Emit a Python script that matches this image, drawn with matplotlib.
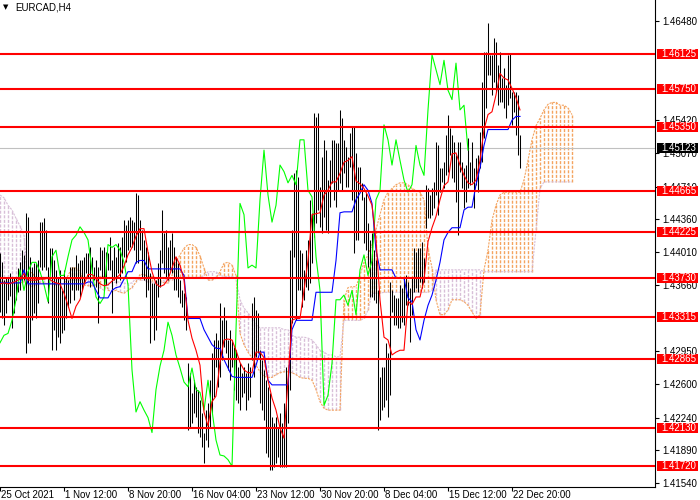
import numpy as np
import matplotlib
matplotlib.use("Agg")
import matplotlib.pyplot as plt
from matplotlib.patches import Rectangle
from matplotlib.transforms import blended_transform_factory

plt.rcParams["font.family"] = ["Liberation Sans", "DejaVu Sans"]

symbol = "EURCAD,H4"
time_labels = ["25 Oct 2021", "1 Nov 12:00", "8 Nov 20:00", "16 Nov 04:00", "23 Nov 12:00",
               "30 Nov 20:00", "8 Dec 04:00", "15 Dec 12:00", "22 Dec 20:00"]
time_label_bars = [0, 32, 64, 96, 128, 160, 192, 224, 256]
price_ticks = [1.46480, 1.45420, 1.45070, 1.44710, 1.44360, 1.44010, 1.43660,
               1.42950, 1.42600, 1.42240, 1.41890, 1.41540]
levels = [1.46125, 1.45750, 1.45350, 1.44665, 1.44225, 1.43730, 1.43315, 1.42865, 1.42130, 1.41720]
last_price = 1.45123

# H4 bars, one per bar index
bar_high = [
    1.4400, 1.4390, 1.4371, 1.4374, 1.4374, 1.4379, 1.4374, 1.4374, 1.4374, 1.4384,
    1.4390, 1.4403, 1.4398, 1.4443, 1.4438, 1.4396, 1.4385, 1.4389, 1.4389, 1.4392,
    1.4433, 1.4433, 1.4437, 1.4425, 1.4385, 1.4405, 1.4405, 1.4392, 1.4382, 1.4374,
    1.4382, 1.4360, 1.4382, 1.4374, 1.4371, 1.4385, 1.4385, 1.4385, 1.4398, 1.4389,
    1.4392, 1.4392, 1.4396, 1.4400, 1.4400, 1.4406, 1.4396, 1.4385, 1.4392, 1.4385,
    1.4406, 1.4403, 1.4406, 1.4401, 1.4400, 1.4417, 1.4392, 1.4406, 1.4396, 1.4411,
    1.4406, 1.4417, 1.4435, 1.4430, 1.4435, 1.4438, 1.4435, 1.4433, 1.4464, 1.4462,
    1.4435, 1.4425, 1.4414, 1.4406, 1.4401, 1.4379, 1.4368, 1.4368, 1.4371, 1.4389,
    1.4403, 1.4446, 1.4421, 1.4425, 1.4406, 1.4414, 1.4421, 1.4406, 1.4396, 1.4389,
    1.4371, 1.4360, 1.4357, 1.4353, 1.4282, 1.4272, 1.4250, 1.4264, 1.4257, 1.4254,
    1.4243, 1.4229, 1.4208, 1.4232, 1.4240, 1.4264, 1.4293, 1.4307, 1.4314, 1.4307,
    1.4346, 1.4328, 1.4342, 1.4328, 1.4307, 1.4318, 1.4307, 1.4299, 1.4296, 1.4278,
    1.4282, 1.4272, 1.4278, 1.4272, 1.4282, 1.4278, 1.4346, 1.4353, 1.4339, 1.4336,
    1.4296, 1.4286, 1.4275, 1.4264, 1.4257, 1.4250, 1.4225, 1.4218, 1.4225, 1.4214,
    1.4229, 1.4218, 1.4240, 1.4278, 1.4275, 1.4403, 1.4425, 1.4485, 1.4489, 1.4481,
    1.4403, 1.4400, 1.4382, 1.4403, 1.4414, 1.4457, 1.4443, 1.4550, 1.4545, 1.4550,
    1.4471, 1.4503, 1.4521, 1.4510, 1.4478, 1.4499, 1.4521, 1.4521, 1.4518, 1.4518,
    1.4553, 1.4544, 1.4521, 1.4513, 1.4503, 1.4528, 1.4535, 1.4535, 1.4507, 1.4492,
    1.4492, 1.4475, 1.4460, 1.4464, 1.4432, 1.4414, 1.4421, 1.4403, 1.4392, 1.4360,
    1.4267, 1.4278, 1.4278, 1.4304, 1.4293, 1.4369, 1.4360, 1.4355, 1.4352, 1.4352,
    1.4366, 1.4363, 1.4373, 1.4376, 1.4369, 1.4363, 1.4373, 1.4405, 1.4401, 1.4405,
    1.4405, 1.4412, 1.4395, 1.4473, 1.4469, 1.4462, 1.4469, 1.4476, 1.4519, 1.4515,
    1.4491, 1.4491, 1.4497, 1.4526, 1.4548, 1.4534, 1.4526, 1.4519, 1.4505, 1.4519,
    1.4519, 1.4497, 1.4491, 1.4494, 1.4523, 1.4497, 1.4519, 1.4491, 1.4502, 1.4505,
    1.4529, 1.4583, 1.4615, 1.4615, 1.4646, 1.4612, 1.4612, 1.4630, 1.4626, 1.4601,
    1.4615, 1.4587, 1.4598, 1.4580, 1.4612, 1.4614, 1.4572, 1.4572, 1.4572, 1.4569,
    1.4526,
]
bar_low = [
    1.4337, 1.4330, 1.4323, 1.4336, 1.4350, 1.4354, 1.4320, 1.4336, 1.4350, 1.4358,
    1.4360, 1.4369, 1.4371, 1.4293, 1.4304, 1.4304, 1.4328, 1.4336, 1.4331, 1.4346,
    1.4385, 1.4382, 1.4385, 1.4382, 1.4346, 1.4379, 1.4296, 1.4318, 1.4296, 1.4310,
    1.4304, 1.4314, 1.4318, 1.4331, 1.4342, 1.4346, 1.4360, 1.4350, 1.4360, 1.4360,
    1.4353, 1.4360, 1.4368, 1.4379, 1.4373, 1.4364, 1.4379, 1.4371, 1.4364, 1.4325,
    1.4382, 1.4374, 1.4360, 1.4366, 1.4382, 1.4382, 1.4336, 1.4371, 1.4368, 1.4379,
    1.4371, 1.4379, 1.4396, 1.4390, 1.4403, 1.4406, 1.4406, 1.4403, 1.4389, 1.4389,
    1.4403, 1.4374, 1.4371, 1.4353, 1.4360, 1.4304, 1.4331, 1.4307, 1.4318, 1.4353,
    1.4364, 1.4389, 1.4379, 1.4374, 1.4371, 1.4382, 1.4379, 1.4360, 1.4360, 1.4353,
    1.4346, 1.4342, 1.4328, 1.4318, 1.4211, 1.4214, 1.4218, 1.4229, 1.4225, 1.4208,
    1.4203, 1.4193, 1.4175, 1.4200, 1.4193, 1.4214, 1.4229, 1.4246, 1.4278, 1.4257,
    1.4267, 1.4286, 1.4299, 1.4293, 1.4275, 1.4264, 1.4278, 1.4254, 1.4243, 1.4240,
    1.4232, 1.4246, 1.4250, 1.4232, 1.4243, 1.4246, 1.4286, 1.4267, 1.4289, 1.4293,
    1.4240, 1.4232, 1.4221, 1.4186, 1.4182, 1.4168, 1.4168, 1.4171, 1.4175, 1.4182,
    1.4171, 1.4171, 1.4171, 1.4171, 1.4218, 1.4254, 1.4325, 1.4396, 1.4328, 1.4360,
    1.4360, 1.4342, 1.4350, 1.4364, 1.4360, 1.4368, 1.4389, 1.4417, 1.4432, 1.4446,
    1.4428, 1.4421, 1.4438, 1.4425, 1.4421, 1.4449, 1.4475, 1.4457, 1.4449, 1.4467,
    1.4475, 1.4467, 1.4485, 1.4471, 1.4471, 1.4492, 1.4457, 1.4400, 1.4414, 1.4414,
    1.4467, 1.4457, 1.4411, 1.4403, 1.4385, 1.4353, 1.4353, 1.4350, 1.4346, 1.4211,
    1.4221, 1.4232, 1.4235, 1.4243, 1.4225, 1.4248, 1.4337, 1.4323, 1.4323, 1.4320,
    1.4320, 1.4326, 1.4323, 1.4344, 1.4344, 1.4305, 1.4334, 1.4358, 1.4363, 1.4358,
    1.4369, 1.4363, 1.4369, 1.4427, 1.4437, 1.4437, 1.4441, 1.4448, 1.4462, 1.4441,
    1.4465, 1.4476, 1.4469, 1.4483, 1.4487, 1.4505, 1.4480, 1.4476, 1.4454, 1.4419,
    1.4487, 1.4469, 1.4448, 1.4454, 1.4469, 1.4473, 1.4476, 1.4448, 1.4473, 1.4465,
    1.4491, 1.4497, 1.4523, 1.4555, 1.4590, 1.4590, 1.4569, 1.4583, 1.4572, 1.4558,
    1.4561, 1.4561, 1.4555, 1.4544, 1.4558, 1.4566, 1.4537, 1.4551, 1.4526, 1.4505,
    1.4491,
]

# Ichimoku lines, one value every 2 bars
tenkan = [
    1.4367, 1.4368, 1.4367, 1.4368, 1.4370, 1.4372, 1.4378, 1.4371, 1.4371, 1.4371,
    1.4372, 1.4372, 1.4373, 1.4370, 1.4368, 1.4367, 1.4357, 1.4344, 1.4330, 1.4343,
    1.4350, 1.4366, 1.4377, 1.4377, 1.4373, 1.4367, 1.4365, 1.4366, 1.4370, 1.4373,
    1.4377, 1.4386, 1.4398, 1.4406, 1.4418, 1.4426, 1.4426, 1.4401, 1.4380, 1.4367,
    1.4364, 1.4366, 1.4372, 1.4384, 1.4396, 1.4387, 1.4371, 1.4328, 1.4309, 1.4296,
    1.4280, 1.4230, 1.4215, 1.4241, 1.4247, 1.4283, 1.4307, 1.4308, 1.4307, 1.4296,
    1.4283, 1.4275, 1.4272, 1.4272, 1.4294, 1.4294, 1.4288, 1.4264, 1.4245, 1.4232,
    1.4213, 1.4202, 1.4264, 1.4328, 1.4330, 1.4330, 1.4360, 1.4392, 1.4441, 1.4442,
    1.4443, 1.4462, 1.4467, 1.4476, 1.4476, 1.4485, 1.4497, 1.4499, 1.4503, 1.4477,
    1.4474, 1.4469, 1.4461, 1.4451, 1.4414, 1.4350, 1.4310, 1.4307, 1.4291, 1.4294,
    1.4296, 1.4296, 1.4348, 1.4345, 1.4353, 1.4353, 1.4371, 1.4412, 1.4427, 1.4439,
    1.4457, 1.4472, 1.4476, 1.4506, 1.4507, 1.4494, 1.4483, 1.4475, 1.4473, 1.4478,
    1.4499, 1.4532, 1.4548, 1.4551, 1.4569, 1.4592, 1.4587, 1.4585, 1.4576, 1.4566,
    1.4553,
]
kijun = [
    1.4368, 1.4368, 1.4368, 1.4368, 1.4368, 1.4368, 1.4382, 1.4367, 1.4367, 1.4367,
    1.4367, 1.4367, 1.4367, 1.4367, 1.4367, 1.4367, 1.4367, 1.4367, 1.4367, 1.4367,
    1.4367, 1.4367, 1.4369, 1.4369, 1.4360, 1.4352, 1.4352, 1.4352, 1.4360, 1.4363,
    1.4364, 1.4372, 1.4380, 1.4380, 1.4390, 1.4392, 1.4392, 1.4383, 1.4383, 1.4383,
    1.4383, 1.4383, 1.4383, 1.4383, 1.4383, 1.4383, 1.4376, 1.4330, 1.4330, 1.4330,
    1.4330, 1.4318, 1.4310, 1.4302, 1.4298, 1.4298, 1.4286, 1.4277, 1.4268, 1.4267,
    1.4267, 1.4267, 1.4267, 1.4267, 1.4280, 1.4294, 1.4294, 1.4264, 1.4259, 1.4259,
    1.4259, 1.4259, 1.4259, 1.4318, 1.4328, 1.4328, 1.4328, 1.4328, 1.4328, 1.4358,
    1.4358, 1.4358, 1.4358, 1.4358, 1.4392, 1.4443, 1.4444, 1.4444, 1.4444, 1.4457,
    1.4464, 1.4473, 1.4467, 1.4453, 1.4403, 1.4382, 1.4382, 1.4382, 1.4382, 1.4373,
    1.4373, 1.4373, 1.4352, 1.4348, 1.4318, 1.4307, 1.4328, 1.4344, 1.4355, 1.4371,
    1.4390, 1.4414, 1.4422, 1.4427, 1.4427, 1.4427, 1.4446, 1.4449, 1.4449, 1.4473,
    1.4491, 1.4515, 1.4532, 1.4532, 1.4532, 1.4532, 1.4532, 1.4532, 1.4542, 1.4546,
    1.4546,
]
chikou = [
    1.4304, 1.4312, 1.4314, 1.4328, 1.4350, 1.4382, 1.4360, 1.4380, 1.4390, 1.4390,
    1.4380, 1.4366, 1.4348, 1.4396, 1.4403, 1.4376, 1.4376, 1.4396, 1.4414, 1.4419,
    1.4428, 1.4422, 1.4414, 1.4382, 1.4353, 1.4346, 1.4353, 1.4409, 1.4406, 1.4409,
    1.4403, 1.4390, 1.4366, 1.4275, 1.4230, 1.4241, 1.4232, 1.4224, 1.4208, 1.4254,
    1.4279, 1.4296, 1.4326, 1.4312, 1.4291, 1.4277, 1.4262, 1.4257, 1.4277, 1.4254,
    1.4251, 1.4232, 1.4264, 1.4232, 1.4200, 1.4184, 1.4183, 1.4179, 1.4172, 1.4318,
    1.4453, 1.4441, 1.4384, 1.4387, 1.4384, 1.4457, 1.4510, 1.4462, 1.4433, 1.4451,
    1.4494, 1.4487, 1.4475, 1.4483, 1.4473, 1.4521, 1.4521, 1.4467, 1.4460, 1.4396,
    1.4360, 1.4237, 1.4248, 1.4282, 1.4350, 1.4350, 1.4355, 1.4344, 1.4360, 1.4334,
    1.4382, 1.4398, 1.4376, 1.4392, 1.4457, 1.4467, 1.4537, 1.4521, 1.4494, 1.4521,
    1.4499, 1.4478, 1.4465, 1.4473, 1.4515, 1.4494, 1.4483, 1.4553, 1.4612, 1.4596,
    1.4580, 1.4606, 1.4574, 1.4564, 1.4603, 1.4553, 1.4558, 1.4510,
]
span_a = [
    1.4369, 1.4369, 1.4369, 1.4368, 1.4368, 1.4368, 1.4369, 1.4379, 1.4379, 1.4373,
    1.4368, 1.4368, 1.4367, 1.4367, 1.4366, 1.4366, 1.4367, 1.4376, 1.4384, 1.4384,
    1.4380, 1.4366, 1.4365, 1.4365, 1.4366, 1.4375, 1.4375, 1.4360, 1.4359, 1.4360,
    1.4358, 1.4357, 1.4360, 1.4363, 1.4369, 1.4377, 1.4377, 1.4375, 1.4375, 1.4373,
    1.4371, 1.4368, 1.4368, 1.4376, 1.4390, 1.4398, 1.4405, 1.4409, 1.4409, 1.4406,
    1.4397, 1.4384, 1.4371, 1.4371, 1.4373, 1.4380, 1.4389, 1.4390, 1.4387, 1.4376,
    1.4314, 1.4302, 1.4294, 1.4288, 1.4280, 1.4273, 1.4268, 1.4267, 1.4267, 1.4270,
    1.4272, 1.4273, 1.4273, 1.4272, 1.4270, 1.4267, 1.4266, 1.4266, 1.4264, 1.4254,
    1.4241, 1.4234, 1.4232, 1.4232, 1.4232, 1.4232, 1.4350, 1.4363, 1.4364, 1.4364,
    1.4376, 1.4390, 1.4398, 1.4409, 1.4425, 1.4441, 1.4457, 1.4465, 1.4469, 1.4473,
    1.4475, 1.4475, 1.4473, 1.4469, 1.4467, 1.4465, 1.4457, 1.4405, 1.4384, 1.4350,
    1.4334, 1.4334, 1.4339, 1.4350, 1.4350, 1.4350, 1.4348, 1.4344, 1.4337, 1.4330,
    1.4334, 1.4382, 1.4403, 1.4435, 1.4451, 1.4462, 1.4465, 1.4465, 1.4465, 1.4465,
    1.4465, 1.4478, 1.4499, 1.4521, 1.4536, 1.4544, 1.4553, 1.4559, 1.4561, 1.4561,
    1.4558, 1.4558, 1.4555, 1.4548,
]
span_b = [
    1.4462, 1.4459, 1.4451, 1.4446, 1.4437, 1.4429, 1.4419, 1.4366, 1.4364, 1.4366,
    1.4374, 1.4374, 1.4374, 1.4373, 1.4373, 1.4372, 1.4372, 1.4371, 1.4371, 1.4371,
    1.4371, 1.4373, 1.4373, 1.4373, 1.4372, 1.4363, 1.4360, 1.4368, 1.4368, 1.4369,
    1.4369, 1.4368, 1.4367, 1.4368, 1.4373, 1.4371, 1.4371, 1.4369, 1.4369, 1.4368,
    1.4367, 1.4371, 1.4372, 1.4371, 1.4373, 1.4374, 1.4374, 1.4374, 1.4374, 1.4374,
    1.4374, 1.4376, 1.4380, 1.4380, 1.4380, 1.4376, 1.4375, 1.4375, 1.4375, 1.4373,
    1.4350, 1.4341, 1.4336, 1.4330, 1.4323, 1.4320, 1.4320, 1.4320, 1.4320, 1.4320,
    1.4320, 1.4318, 1.4318, 1.4312, 1.4310, 1.4310, 1.4310, 1.4309, 1.4307, 1.4302,
    1.4296, 1.4294, 1.4291, 1.4291, 1.4289, 1.4289, 1.4328, 1.4328, 1.4328, 1.4328,
    1.4328, 1.4330, 1.4339, 1.4357, 1.4357, 1.4357, 1.4358, 1.4358, 1.4358, 1.4358,
    1.4358, 1.4358, 1.4358, 1.4358, 1.4358, 1.4358, 1.4358, 1.4358, 1.4360, 1.4382,
    1.4382, 1.4382, 1.4382, 1.4382, 1.4382, 1.4382, 1.4382, 1.4382, 1.4382, 1.4382,
    1.4382, 1.4380, 1.4380, 1.4380, 1.4380, 1.4380, 1.4380, 1.4380, 1.4380, 1.4380,
    1.4380, 1.4380, 1.4380, 1.4380, 1.4425, 1.4469, 1.4476, 1.4476, 1.4476, 1.4476,
    1.4476, 1.4476, 1.4476, 1.4476,
]

Y_TOP, Y_BOT = 1.46705, 1.41498
PX_W = 655  # plot width in pixels

fig = plt.figure(figsize=(7, 5), dpi=100)
ax = fig.add_axes([0, 13 / 500, PX_W / 700, 487 / 500])
ax.set_xlim(0, 327.5)
ax.set_ylim(Y_BOT, Y_TOP)

# cloud hatch
a = np.array(span_a)
b = np.array(span_b)
xs = np.arange(len(a)) * 2
up = a >= b
hatch = (0, (2.2, 1.1))
ax.vlines(xs[up], b[up], a[up], colors="#F4A460", linewidth=1.0, linestyles=[hatch], zorder=1)
ax.vlines(xs[~up], a[~up], b[~up], colors="#D8BFD8", linewidth=1.0, linestyles=[hatch], zorder=1)
ax.plot(xs, a, color="#F4A460", lw=0.8, ls=(0, (2, 1)), zorder=1)
ax.plot(xs, b, color="#D8BFD8", lw=0.8, ls=(0, (2, 1)), zorder=1)

ax.axhline(last_price, color="#C0C0C0", lw=0.8, zorder=1.5)

# price bars
ax.vlines(np.arange(len(bar_high)), bar_low, bar_high, colors="black", linewidth=0.75, zorder=2)

# indicator lines
ax.plot(np.arange(len(chikou)) * 2, chikou, color="#00FF00", lw=0.8, zorder=3)
ax.plot(np.arange(len(kijun)) * 2, kijun, color="#0000FF", lw=0.8, zorder=3)
ax.plot(np.arange(len(tenkan)) * 2, tenkan, color="#FF0000", lw=0.8, zorder=3)

# horizontal levels with labels on the price scale
trans = blended_transform_factory(ax.transAxes, ax.transData)
box_h = 10 * (Y_TOP - Y_BOT) / 487
for lvl in levels:
    ax.axhline(lvl, color="#FF0000", lw=1.5, zorder=4)
    ax.add_patch(Rectangle((657 / PX_W, lvl - box_h / 2), 41 / PX_W, box_h, transform=trans,
                           facecolor="#FF0000", edgecolor="none", clip_on=False, zorder=5))
    ax.text(661 / PX_W, lvl, f"{lvl:.5f}", transform=trans, color="white", fontsize=7,
            va="center", ha="left", clip_on=False, zorder=6)

ax.add_patch(Rectangle((657 / PX_W, last_price - box_h / 2), 41 / PX_W, box_h, transform=trans,
                       facecolor="black", edgecolor="none", clip_on=False, zorder=5))
ax.text(661 / PX_W, last_price, f"{last_price:.5f}", transform=trans, color="white", fontsize=7,
        va="center", ha="left", clip_on=False, zorder=6)

# axes
ax.set_yticks(price_ticks)
ax.set_yticklabels([f"{p:.5f}" for p in price_ticks])
ax.tick_params(axis="y", left=False, right=True, labelleft=False, labelright=True,
               length=3, width=0.8, pad=2, labelsize=7)
ax.set_xticks(time_label_bars)
ax.set_xticklabels([])
ax.tick_params(axis="x", length=3, width=0.8)
# time labels sit just under the ticks, left aligned on them
xtrans = blended_transform_factory(ax.transData, fig.transFigure)
for pos, lbl in zip(time_label_bars, time_labels):
    ax.text(pos + 0.6, 2.5 / 500, lbl, transform=xtrans, fontsize=7, ha="left", va="baseline",
            clip_on=False)
for side in ["top", "left"]:
    ax.spines[side].set_visible(False)
for side in ["right", "bottom"]:
    ax.spines[side].set_linewidth(0.8)

fig.text(3 / 700, 1 - 7 / 500, "\u25bc", fontsize=5, family="DejaVu Sans", va="center", ha="left")
fig.text(15 / 700, 1 - 7 / 500, symbol, fontsize=7, va="center", ha="left")

fig.savefig("out.png", dpi=100)
